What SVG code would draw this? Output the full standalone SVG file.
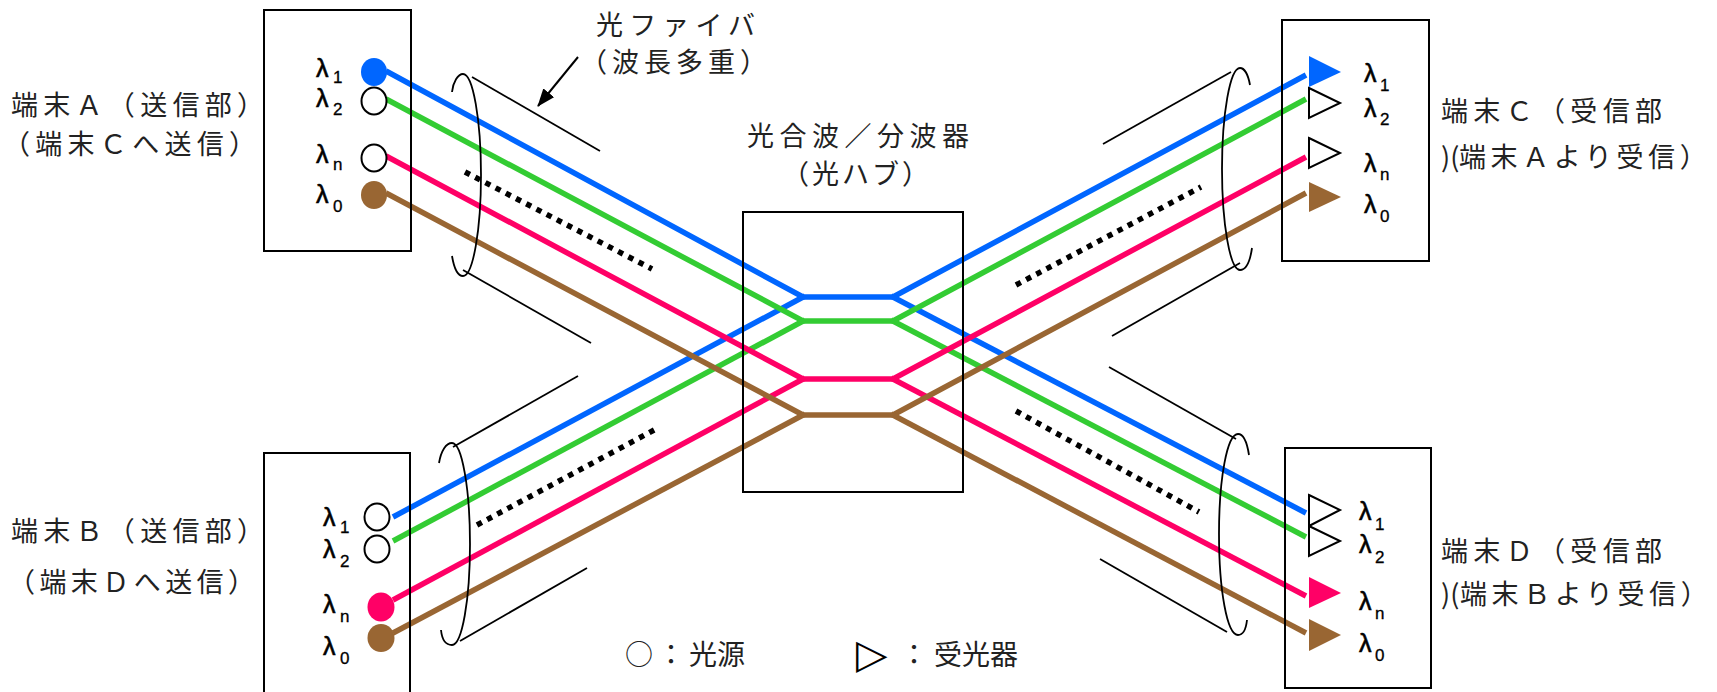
<svg xmlns="http://www.w3.org/2000/svg" width="1717" height="692" viewBox="0 0 1717 692">
<style>
.box{fill:none;stroke:#000;stroke-width:2}
.hub{fill:none;stroke:#000;stroke-width:2}
.f{fill:none;stroke-width:5.5;stroke-linecap:butt;stroke-linejoin:miter}
.b{stroke:#0066ff}.g{stroke:#33cc33}.p{stroke:#ff0066}.o{stroke:#996633}
.cyl{fill:none;stroke:#000;stroke-width:1.8}
.dot{fill:none;stroke:#000;stroke-width:5.5;stroke-dasharray:5.5 6}
.jp{font-family:"Noto Sans CJK JP","Noto Sans CJK SC",sans-serif;font-size:27px;fill:#222}
.lam{font-family:"Liberation Sans",Arial,sans-serif;font-size:25px;fill:#000;stroke:#000;stroke-width:0.6}
.sub{font-size:17px;stroke-width:0.3}
.open{fill:#fff;stroke:#000;stroke-width:2}
.fb{fill:#0066ff}.fg{fill:#33cc33}.fp{fill:#ff0066}.fo{fill:#996633}
.sym{font-family:"DejaVu Sans",sans-serif;fill:#000}
</style>
<defs>
<marker id="ah" markerUnits="userSpaceOnUse" markerWidth="18" markerHeight="14" viewBox="0 0 18 14" refX="17" refY="7" orient="auto">
<path d="M0,0 L18,7 L0,14 z" fill="#000"/>
</marker>
</defs>

<g id="connectors">
<path class="f b" d="M386,71 L803,297 L893,297 L1306,75"/>
<path class="f b" d="M393,517 L805,296"/>
<path class="f b" d="M891,296 L1306,513"/>
<path class="f g" d="M386,99 L803,321 L893,321 L1306,99"/>
<path class="f g" d="M393,541 L805,320"/>
<path class="f g" d="M891,320 L1306,537"/>
<path class="f p" d="M386,156 L803,379 L893,379 L1306,157"/>
<path class="f p" d="M393,600 L805,378"/>
<path class="f p" d="M891,378 L1306,596"/>
<path class="f o" d="M386,193 L803,415 L893,415 L1306,193"/>
<path class="f o" d="M393,633 L805,414"/>
<path class="f o" d="M891,414 L1306,633"/>
</g>

<g id="bundle-A">
<line class="cyl" x1="472" y1="77" x2="600" y2="151"/>
<line class="cyl" x1="463" y1="270" x2="591" y2="343"/>
<line class="dot" x1="465" y1="172" x2="652" y2="269"/>
<path class="cyl" d="M452,92 C453,82 458,74 463,74 C473,74 481,120 481,175 C481,230 473,276 463,276 C458,276 454,268 452,256"/>
</g>
<g id="bundle-B">
<line class="cyl" x1="453" y1="447" x2="578" y2="376"/>
<line class="cyl" x1="460" y1="641" x2="587" y2="568"/>
<line class="dot" x1="477" y1="525" x2="656" y2="429"/>
<path class="cyl" d="M439,463 C441,451 446,443 452,443 C462,443 470,489 470,544 C470,600 462,645 452,645 C446,645 442,640 441,630"/>
</g>
<g id="bundle-C">
<line class="cyl" x1="1103" y1="144" x2="1231" y2="72"/>
<line class="cyl" x1="1112" y1="336" x2="1240" y2="263"/>
<line class="dot" x1="1016" y1="285" x2="1201" y2="187"/>
<path class="cyl" d="M1250,85 C1248,74 1244,68 1240,68 C1230,68 1222,114 1222,169 C1222,224 1230,270 1240,270 C1246,270 1250,262 1252,248"/>
</g>
<g id="bundle-D">
<line class="cyl" x1="1109" y1="367" x2="1236" y2="439"/>
<line class="cyl" x1="1100" y1="559" x2="1227" y2="632"/>
<line class="dot" x1="1016" y1="411" x2="1199" y2="512"/>
<path class="cyl" d="M1249,455 C1247,442 1243,434 1238,434 C1227,434 1219,479 1219,534 C1219,590 1227,635 1238,635 C1243,635 1246,629 1247,620"/>
</g>

<g id="fiber-label">
<text class="jp" x="596" y="35" textLength="159" lengthAdjust="spacing">光ファイバ</text>
<text class="jp" x="580" y="72" textLength="187" lengthAdjust="spacing">（波長多重）</text>
<line x1="578" y1="57" x2="538" y2="106" stroke="#000" stroke-width="2" marker-end="url(#ah)"/>
</g>

<g id="hub">
<rect class="hub" x="743" y="212" width="220" height="280"/>
<text class="jp" x="747" y="146" textLength="222" lengthAdjust="spacing">光合波／分波器</text>
<text class="jp" x="782" y="184" textLength="147" lengthAdjust="spacing">（光ハブ）</text>
</g>

<g id="terminal-A">
<rect class="box" x="264" y="10" width="147" height="241"/>
<ellipse class="fb" cx="374" cy="72" rx="13" ry="14"/>
<ellipse class="open" cx="374" cy="101" rx="12.5" ry="13.5"/>
<ellipse class="open" cx="374" cy="158" rx="12.5" ry="13.5"/>
<ellipse class="fo" cx="374" cy="195" rx="13" ry="14"/>
<text class="lam" x="316" y="77">λ<tspan class="sub" x="333" y="83">1</tspan></text>
<text class="lam" x="316" y="107">λ<tspan class="sub" x="333" y="115">2</tspan></text>
<text class="lam" x="316" y="163">λ<tspan class="sub" x="333" y="170">n</tspan></text>
<text class="lam" x="316" y="203">λ<tspan class="sub" x="333" y="212">0</tspan></text>
<text class="jp" x="11" y="115" textLength="253" lengthAdjust="spacing">端末Ａ（送信部）</text>
<text class="jp" x="3" y="154" textLength="253" lengthAdjust="spacing">（端末Ｃへ送信）</text>
</g>

<g id="terminal-B">
<rect class="box" x="264" y="453" width="146" height="260"/>
<ellipse class="open" cx="377" cy="517" rx="12.5" ry="13.5"/>
<ellipse class="open" cx="377" cy="549" rx="12.5" ry="13.5"/>
<ellipse class="fp" cx="381" cy="607" rx="13.5" ry="14.5"/>
<ellipse class="fo" cx="381" cy="638" rx="13.5" ry="14"/>
<text class="lam" x="323" y="526">λ<tspan class="sub" x="340" y="533">1</tspan></text>
<text class="lam" x="323" y="558">λ<tspan class="sub" x="340" y="567">2</tspan></text>
<text class="lam" x="323" y="613">λ<tspan class="sub" x="340" y="622">n</tspan></text>
<text class="lam" x="323" y="655">λ<tspan class="sub" x="340" y="664">0</tspan></text>
<text class="jp" x="11" y="541" textLength="253" lengthAdjust="spacing">端末Ｂ（送信部）</text>
<text class="jp" x="8" y="592" textLength="247" lengthAdjust="spacing">（端末Ｄへ送信）</text>
</g>

<g id="terminal-C">
<rect class="box" x="1282" y="20" width="147" height="241"/>
<polygon class="fb" points="1309,56 1341,72 1309,87"/>
<polygon class="open" points="1309,88 1340,103 1309,118"/>
<polygon class="open" points="1309,138 1340,153 1309,168"/>
<polygon class="fo" points="1309,182 1341,197 1309,212"/>
<text class="lam" x="1364" y="82">λ<tspan class="sub" x="1380" y="91">1</tspan></text>
<text class="lam" x="1364" y="117">λ<tspan class="sub" x="1380" y="125">2</tspan></text>
<text class="lam" x="1364" y="172">λ<tspan class="sub" x="1380" y="180">n</tspan></text>
<text class="lam" x="1364" y="213">λ<tspan class="sub" x="1380" y="222">0</tspan></text>
<text class="jp" x="1441" y="121" textLength="221" lengthAdjust="spacing">端末Ｃ（受信部</text>
<text class="jp" x="1441" y="167">)(<tspan x="1459" style="letter-spacing:4.6px">端末Ａより受信）</tspan></text>
</g>

<g id="terminal-D">
<rect class="box" x="1285" y="448" width="146" height="240"/>
<polygon class="open" points="1309,495 1340,510 1309,526"/>
<polygon class="open" points="1309,526 1340,541 1309,556"/>
<polygon class="fp" points="1309,577 1341,593 1309,608"/>
<polygon class="fo" points="1309,619 1341,635 1309,651"/>
<text class="lam" x="1359" y="520">λ<tspan class="sub" x="1375" y="530">1</tspan></text>
<text class="lam" x="1359" y="553">λ<tspan class="sub" x="1375" y="563">2</tspan></text>
<text class="lam" x="1359" y="610">λ<tspan class="sub" x="1375" y="619">n</tspan></text>
<text class="lam" x="1359" y="652">λ<tspan class="sub" x="1375" y="661">0</tspan></text>
<text class="jp" x="1441" y="561" textLength="221" lengthAdjust="spacing">端末Ｄ（受信部</text>
<text class="jp" x="1441" y="604">)(<tspan x="1460" style="letter-spacing:4.6px">端末Ｂより受信）</tspan></text>
</g>

<g id="legend">
<text class="jp" y="665" style="font-size:28px"><tspan x="625">○</tspan><tspan x="657">：</tspan><tspan x="689">光源</tspan></text>
<text class="jp" y="665" style="font-size:28px"><tspan class="sym" x="856" y="668" style="font-size:41px">▷</tspan><tspan x="900" y="665">：</tspan><tspan x="934">受光器</tspan></text>
</g>
</svg>
